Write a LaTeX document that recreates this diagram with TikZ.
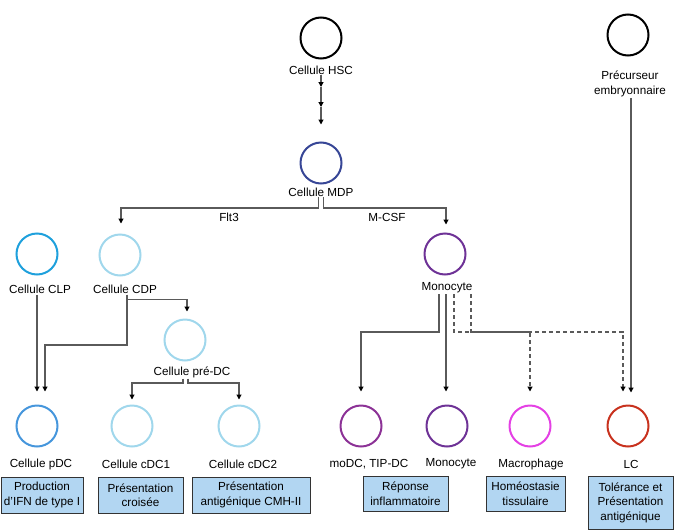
\documentclass[tikz,border=0pt]{standalone}
\usepackage{fontspec}
\setmainfont{Liberation Sans}
\usepackage{tikz}
\usetikzlibrary{arrows.meta, positioning, calc}

\definecolor{linkgray}{RGB}{90,90,90}
\definecolor{boxblue}{RGB}{178,214,242}
\definecolor{mdpblue}{RGB}{55,70,150}
\definecolor{clpblue}{RGB}{30,160,220}
\definecolor{paleblue}{RGB}{160,215,236}
\definecolor{pdcblue}{RGB}{70,150,220}
\definecolor{monopurple}{RGB}{110,50,150}
\definecolor{modcpurple}{RGB}{140,50,150}
\definecolor{macromag}{RGB}{228,64,228}
\definecolor{lcred}{RGB}{200,50,30}

\begin{document}
\begin{tikzpicture}[x=1pt, y=-1pt,
        cell/.style={circle, draw=#1, line width=2pt, minimum size=41pt, inner sep=0pt},
        celltext/.style={font=\fontsize{11.7}{14.5}\selectfont, inner sep=1pt, align=center},
        rolebox/.style={draw=black!80, fill=boxblue, line width=1pt, align=center,
            font=\fontsize{11.7}{14.5}\selectfont, inner sep=0pt},
        link/.style={draw=linkgray, line width=1.1pt, shorten >=#1,
            -{Triangle[length=5pt, width=5pt, color=black]}},
        link/.default=8pt,
        dlink/.style={link=#1, dash pattern=on 4pt off 3pt},
        dlink/.default=13pt]
        \useasboundingbox (0,0) rectangle (679,530);

        % cells, top
        \node[cell=black] (hsc) at (321,38) {};
        \node[celltext] (hsclab) at (321,70) {Cellule HSC};
        \node[cell=black] (pre) at (628,35) {};
        \node[celltext] (prelab) at (630,84) {Précurseur\\embryonnaire};
        \node[cell=mdpblue] (mdp) at (321,163) {};
        \node[celltext] (mdplab) at (321,192) {Cellule MDP};

        \node[cell=clpblue] (clp) at (37,254) {};
        \node[celltext] (clplab) at (40,289) {Cellule CLP};
        \node[cell=paleblue] (cdp) at (120,255) {};
        \node[celltext] (cdplab) at (125,289) {Cellule CDP};
        \node[cell=monopurple] (mono) at (445,254) {};
        \node[celltext] (monolab) at (447,288) {Monocyte};
        \node[cell=paleblue] (predc) at (185,340) {};
        \node[celltext] (predclab) at (192,372) {Cellule pré-DC};

        % cells, bottom
        \node[cell=pdcblue] (pdc) at (37,426) {};
        \node[celltext] (pdclab) at (41,464) {Cellule pDC};
        \node[cell=paleblue] (cdc1) at (132,426) {};
        \node[celltext] (cdc1lab) at (136,464) {Cellule cDC1};
        \node[cell=paleblue] (cdc2) at (239,426) {};
        \node[celltext] (cdc2lab) at (243,464) {Cellule cDC2};
        \node[cell=modcpurple] (modc) at (361,426) {};
        \node[celltext] (modclab) at (369,464) {moDC, TIP-DC};
        \node[cell=monopurple] (monob) at (447,426) {};
        \node[celltext] (monoblab) at (451,464) {Monocyte};
        \node[cell=macromag] (macro) at (530,426) {};
        \node[celltext] (macrolab) at (531,464) {Macrophage};
        \node[cell=lcred] (lc) at (628,426) {};
        \node[celltext] (lclab) at (631,464) {LC};

        % functions
        \node[rolebox, minimum width=82pt, minimum height=36pt] (boxpdc) at (42,495) {Production\\d'IFN de type I};
        \node[rolebox, minimum width=85pt, minimum height=36pt] (boxcdc1) at (140.5,495) {Présentation\\croisée};
        \node[rolebox, minimum width=118pt, minimum height=36pt] (boxcdc2) at (251,495) {Présentation\\antigénique CMH-II};
        \node[rolebox, minimum width=85pt, minimum height=35pt] (boxmodc) at (405.5,493.5) {Réponse\\inflammatoire};
        \node[rolebox, minimum width=79pt, minimum height=35pt] (boxmacro) at (525.5,493.5) {Homéostasie\\tissulaire};
        \node[rolebox, minimum width=85pt, minimum height=53pt] (boxlc) at (630.5,502.5) {Tolérance et\\Présentation\\antigénique};

        % HSC -> MDP
        \coordinate (hstep1) at (321,87);
        \coordinate (hstep2) at (321,107);
        \draw[link=0pt] (hsclab.south) -- (hstep1);
        \draw[link=0pt] (hstep1) -- (hstep2);
        \draw[link=17pt] (hstep2) -- (mdp.north);

        % MDP -> CDP / Monocyte
        \coordinate (mdpsplit) at (321,208);
        \draw[link=10pt] ([xshift=-2.5pt]mdplab.south) -- ([xshift=-2.5pt]mdpsplit) -| ([xshift=1pt]cdp.north);
        \draw[link=8pt] ([xshift=2.5pt]mdplab.south) -- ([xshift=2.5pt]mdpsplit) -| ([xshift=1pt]mono.north);
        \node[celltext] (flt3) at (229,217) {Flt3};
        \node[celltext] (mcsf) at (387,217) {M-CSF};

        % CLP, CDP -> pDC, pre-DC
        \coordinate (cdpbend) at (127,345);
        \draw[link=13pt] (clp.center |- clplab.south) -- (pdc.north);
        \draw[link=13pt] (cdplab.south -| cdpbend) -- (cdpbend) -| ([xshift=8pt]pdc.north);
        \draw[link=7pt] (cdplab.south -| cdpbend) -- ++(0,5) -| ([xshift=2pt]predc.north);

        % pre-DC -> cDC1 / cDC2
        \coordinate (predcsplit) at (185.5,383);
        \draw[link=5pt] ([xshift=-2.5pt]predcsplit |- predclab.south) -- ([xshift=-2.5pt]predcsplit) -| (cdc1.north);
        \draw[link=5pt] ([xshift=2.5pt]predcsplit |- predclab.south) -- ([xshift=2.5pt]predcsplit) -| (cdc2.north);

        % Monocyte -> tissue cells
        \coordinate (monobend) at (439,332);
        \draw[link=13pt] (monolab.south -| monobend) -- (monobend) -| (modc.north);
        \draw[link=13pt] ([xshift=-1pt]monob.north |- monolab.south) -- ([xshift=-1pt]monob.north);
        \draw[dlink] ([xshift=9pt]monolab.south -| mono.center) -- ([xshift=9pt]monobend -| mono.center) -| ([xshift=-5pt]lc.north);
        \draw[dlink] ([xshift=26pt]monolab.south -| mono.center) -- ([xshift=26pt]monobend -| mono.center) -| (macro.north);

        % embryonic precursor -> LC
        \draw[link=12pt] ([xshift=3pt]prelab.south -| pre.center) -- ([xshift=3pt]lc.north);
    \end{tikzpicture}
\end{document}
